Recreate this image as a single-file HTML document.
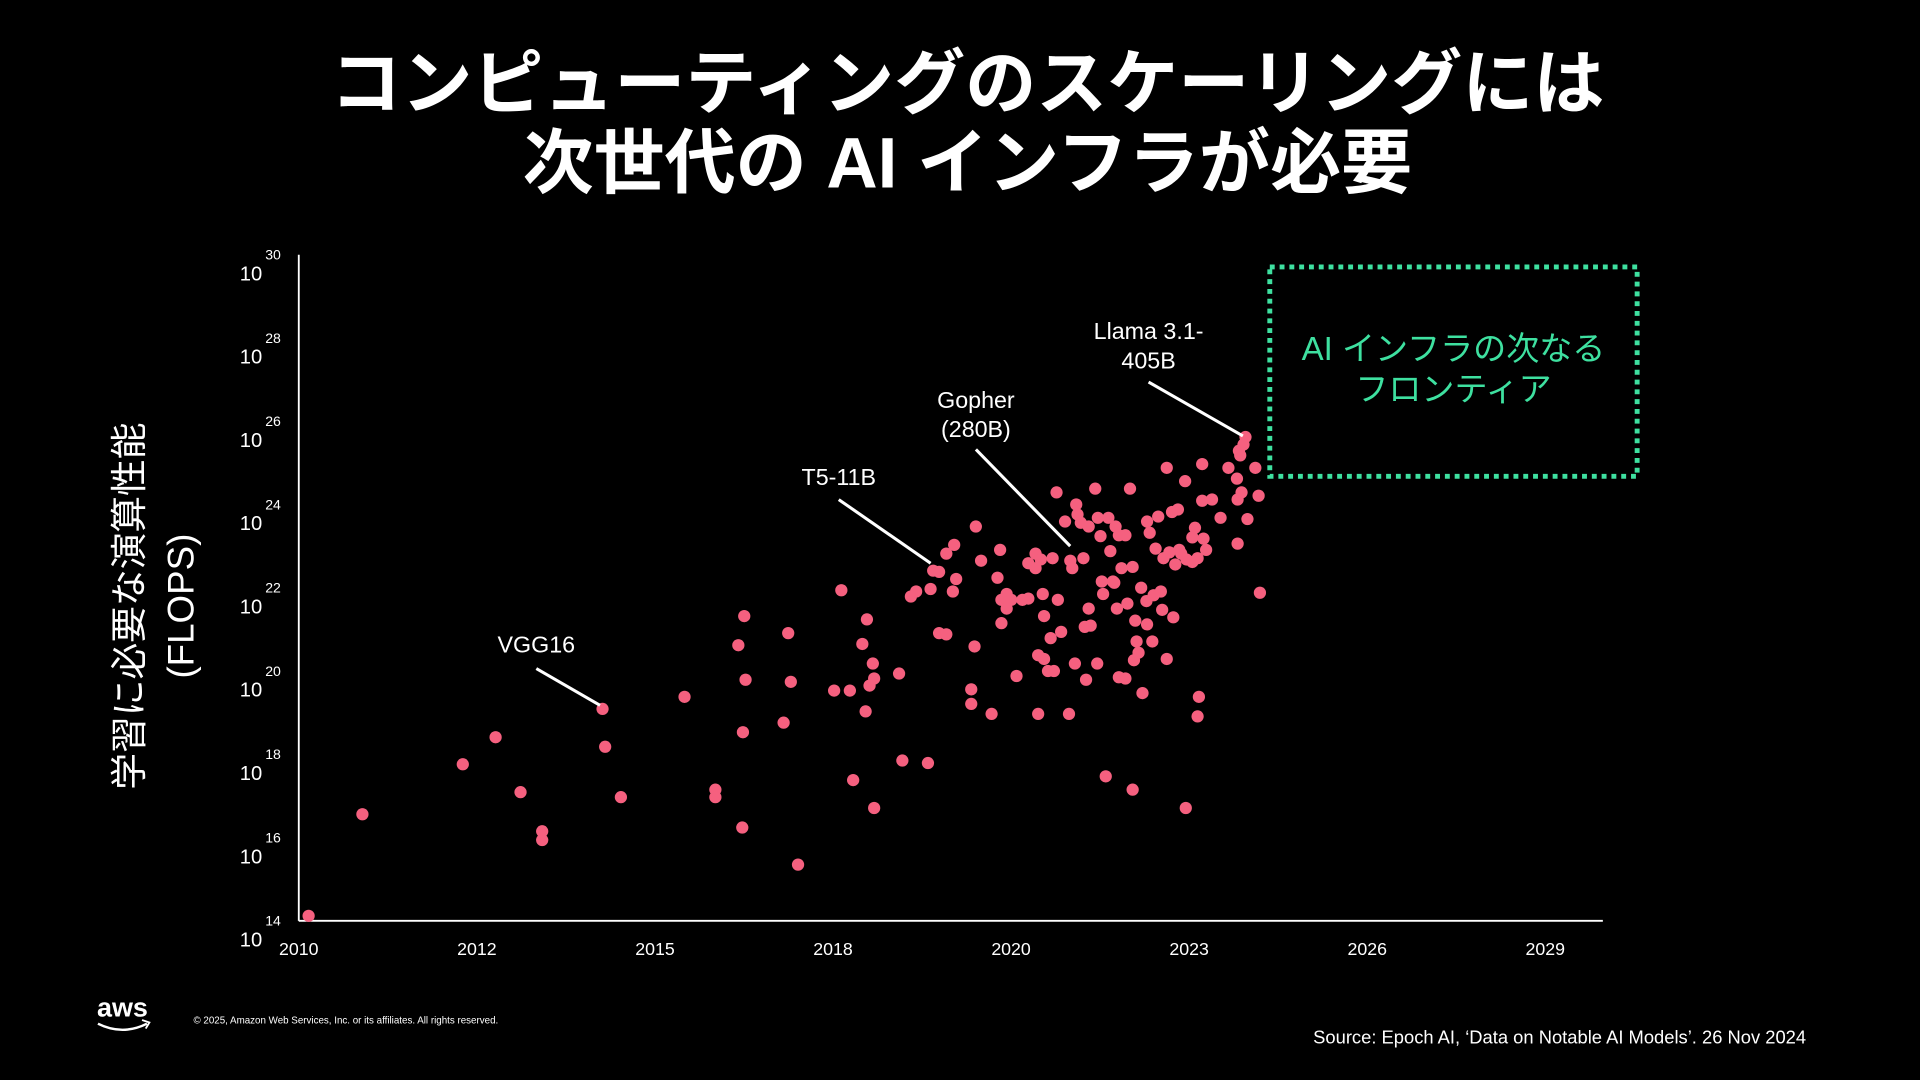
<!DOCTYPE html>
<html><head><meta charset="utf-8"><style>
html,body{margin:0;padding:0;background:#000;width:1920px;height:1080px;overflow:hidden}
svg{display:block}
text{font-family:"Liberation Sans","Noto Sans CJK JP",sans-serif}
</style></head><body>
<svg id="chart" width="1920" height="1080" viewBox="0 0 1568 882" xmlns="http://www.w3.org/2000/svg">
<rect width="1568" height="882" fill="#000"/>
<g fill="#fff" font-weight="bold" font-size="58" text-anchor="middle">
<text x="790" y="88">コンピューティングのスケーリングには</text>
<text x="790" y="153">次世代の AI インフラが必要</text>
</g>
<g fill="#fff" font-size="30" text-anchor="middle">
<text transform="translate(116,495) rotate(-90)">学習に必要な演算性能</text>
<text transform="translate(158,495) rotate(-90)">(FLOPS)</text>
</g>
<g id="axes"></g>
<g id="marks"></g>
<g id="annots" fill="#fff" font-size="19" text-anchor="middle">
<text x="438" y="533">VGG16</text>
<line x1="438" y1="546" x2="490" y2="576" stroke="#fff" stroke-width="2.5"/>
<text x="685" y="396">T5-11B</text>
<line x1="685" y1="408" x2="760" y2="460" stroke="#fff" stroke-width="2.5"/>
<text x="797" y="333">Gopher</text>
<text x="797" y="357">(280B)</text>
<line x1="797" y1="367" x2="874" y2="446" stroke="#fff" stroke-width="2.5"/>
<text x="938" y="277">Llama 3.1-</text>
<text x="938" y="301">405B</text>
<line x1="938" y1="312" x2="1015" y2="356" stroke="#fff" stroke-width="2.5"/>
</g>
<g>
<rect x="1037" y="218" width="300" height="171" fill="none" stroke="#3ee0a0" stroke-width="4" stroke-dasharray="4 4"/>
<text x="1187" y="294" fill="#3ee0a0" font-size="27" text-anchor="middle">AI インフラの次なる</text>
<text x="1187" y="327" fill="#3ee0a0" font-size="27" text-anchor="middle">フロンティア</text>
</g>
<g>
<text x="100" y="830" fill="#fff" font-size="22" font-weight="bold" text-anchor="middle">aws</text>
<path d="M80 836 Q100 846 120 836" stroke="#fff" stroke-width="2" fill="none"/>
<path d="M116 833 L122 835 L119 840" stroke="#fff" stroke-width="1.5" fill="none"/>
</g>
<text x="158" y="836" fill="#fff" font-size="8">© 2025, Amazon Web Services, Inc. or its affiliates. All rights reserved.</text>
<text x="1475" y="852" fill="#fff" font-size="15" text-anchor="end">Source: Epoch AI, ‘Data on Notable AI Models’. 26 Nov 2024</text>
</svg>
<script>
const xTickYears = [2010, 2012.714, 2015.429, 2018.143, 2020.857, 2023.571, 2026.286, 2029];
const xTickLabels = ["2010","2012","2015","2018","2020","2023","2026","2029"];
const yTickExps = [14,16,18,20,22,24,26,28,30];
const years = [2010.15,2010.97,2012.50,2013.00,2013.38,2013.71,2013.71,2014.63,2014.67,2014.91,2015.88,2016.35,2016.35,2016.70,2016.79,2016.81,2016.77,2016.76,2017.39,2017.46,2017.50,2017.61,2018.16,2018.27,2018.40,2018.45,2018.59,2018.64,2018.66,2018.70,2018.75,2018.77,2018.77,2019.15,2019.20,2019.33,2019.41,2019.59,2019.63,2019.67,2019.76,2019.76,2019.87,2019.87,2019.97,2019.99,2020.02,2020.25,2020.25,2020.30,2020.32,2020.40,2020.56,2020.65,2020.69,2020.71,2020.71,2020.79,2020.79,2020.86,2020.94,2021.03,2021.12,2021.12,2021.23,2021.23,2021.27,2021.27,2021.31,2021.34,2021.36,2021.36,2021.42,2021.46,2021.49,2021.51,2021.55,2021.57,2021.62,2021.68,2021.74,2021.76,2021.79,2021.83,2021.85,2021.87,2021.92,2021.96,2021.98,2022.00,2022.04,2022.04,2022.07,2022.14,2022.17,2022.18,2022.22,2022.24,2022.26,2022.30,2022.34,2022.37,2022.41,2022.43,2022.45,2022.47,2022.50,2022.50,2022.54,2022.60,2022.60,2022.63,2022.67,2022.71,2022.71,2022.73,2022.75,2022.77,2022.80,2022.84,2022.86,2022.92,2022.93,2022.93,2022.97,2023.01,2023.03,2023.06,2023.10,2023.14,2023.16,2023.18,2023.23,2023.23,2023.27,2023.31,2023.33,2023.36,2023.40,2023.42,2023.45,2023.51,2023.52,2023.53,2023.62,2023.62,2023.66,2023.70,2023.70,2023.72,2023.77,2023.77,2023.79,2023.83,2023.92,2024.05,2024.17,2024.30,2024.31,2024.31,2024.33,2024.35,2024.37,2024.40,2024.43,2024.46,2024.58,2024.63,2024.65];
const flopsExp = [14.12,16.56,17.76,18.41,17.09,16.15,15.94,19.09,18.18,16.97,19.38,17.15,16.97,20.62,21.32,19.79,18.53,16.24,18.76,20.91,19.74,15.35,19.53,21.94,19.53,17.38,20.65,19.03,21.24,19.65,20.18,16.71,19.82,19.94,17.85,21.79,21.91,17.79,21.97,22.41,22.38,20.91,20.88,22.82,21.91,23.03,22.21,19.56,19.21,20.59,23.47,22.65,18.97,22.24,22.91,21.71,21.15,21.50,21.85,21.71,19.88,21.71,21.74,22.59,22.82,22.47,20.38,18.97,22.68,21.85,20.29,21.32,20.0,20.79,22.71,20.0,24.29,21.71,20.94,23.59,18.97,22.65,22.47,20.18,24.0,23.76,23.56,22.71,21.06,19.79,21.5,23.47,21.09,24.38,20.18,23.68,23.24,22.15,21.85,17.47,23.68,22.88,22.15,22.12,23.47,21.5,19.85,23.26,22.47,19.82,23.26,21.62,24.38,17.15,22.5,20.26,21.21,20.71,20.44,22.0,19.47,21.68,21.12,23.59,23.32,20.71,21.82,22.94,23.71,21.91,21.47,22.71,24.88,20.29,22.85,23.82,21.29,22.56,23.88,22.91,22.82,24.56,16.71,22.68,23.21,22.62,23.44,22.71,18.91,19.38,24.09,24.97,23.18,22.91,24.12,23.68,24.88,24.62,23.06,24.12,25.29,25.18,24.29,25.44,25.62,23.65,24.88,24.21,21.88];

const NS = "http://www.w3.org/2000/svg";
const X0 = 244, X1 = 1262, Y0 = 752, Y1 = 208;
function xScale(yr){ return X0 + (yr - 2010) / (2029 - 2010) * (X1 - X0); }
function yScale(e){ return Y0 - (e - 14) / (30 - 14) * (Y0 - Y1); }
function mk(tag, attrs, parent){ const el = document.createElementNS(NS, tag); for (const k in attrs) el.setAttribute(k, attrs[k]); parent.appendChild(el); return el; }

const axes = document.getElementById('axes');
const yAxis = mk('line', {x1:X0, y1:Y1, x2:X0, y2:Y0, stroke:'#fff', 'stroke-width':1.5}, axes);


const xAxis = mk('line', {x1:X0, y1:Y0, x2:1309, y2:Y0, stroke:'#fff', 'stroke-width':1.5}, axes);



xTickYears.forEach((yr, i) => {
  const t = mk('text', {x:xScale(yr), y:780, fill:'#fff', 'font-size':14.5, 'text-anchor':'middle'}, axes);
  t.textContent = xTickLabels[i];
  
  
});
yTickExps.forEach(e => {
  const y = yScale(e);
  const t = mk('text', {x:205, y:y + 21, fill:'#fff', 'font-size':16.5, 'text-anchor':'middle'}, axes);
  t.textContent = '10';
  
  
  const s = mk('text', {x:223, y:y + 4, fill:'#fff', 'font-size':11.5, 'text-anchor':'middle'}, axes);
  s.textContent = String(e);
  
  
});

const marks = document.getElementById('marks');
years.forEach((yr, i) => {
  const c = mk('circle', {cx:xScale(yr), cy:yScale(flopsExp[i]), r:5, fill:'#f5607f'}, marks);
  
  
});
</script>
</body></html>
